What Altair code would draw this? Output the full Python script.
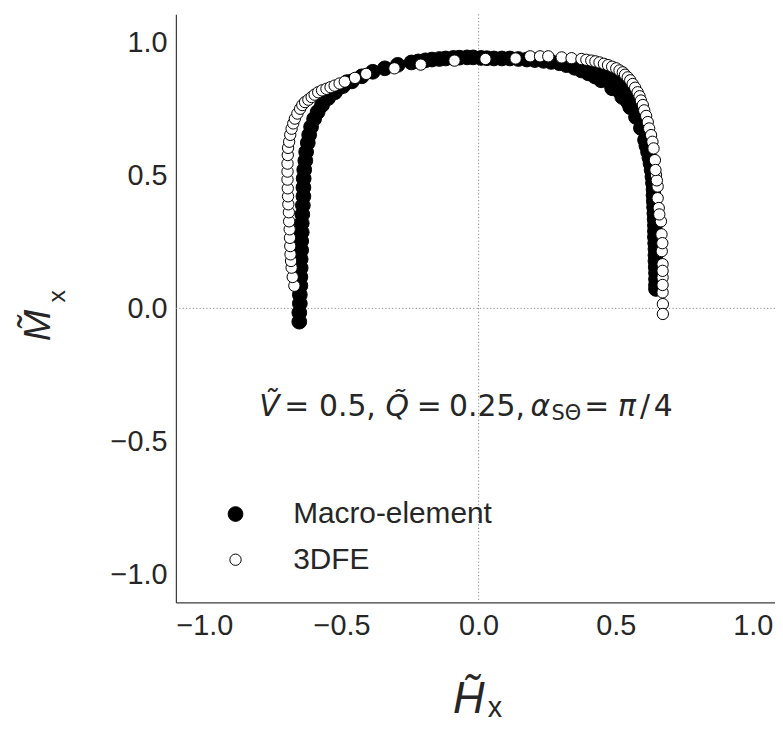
import altair as alt
import pandas as pd

# ---------------- data ----------------
series_names = ["Macro-element", "3DFE"]

macro_x = [
    -0.654, -0.654, -0.652, -0.652, -0.650, -0.650, -0.649, -0.649, -0.647, -0.647,
    -0.645, -0.645, -0.643, -0.641, -0.639, -0.639, -0.638, -0.636, -0.632, -0.629,
    -0.623, -0.618, -0.611, -0.600, -0.587, -0.571, -0.549, -0.524, -0.495, -0.462,
    -0.426, -0.386, -0.342, -0.295, -0.245, -0.194, -0.143, -0.092, -0.042,
    -0.535, -0.510, -0.480,
    -0.220, -0.170, -0.120, -0.070, -0.020, 0.030, 0.085, 0.145, 0.205, 0.265,
    0.320, 0.375, 0.425,
    0.009, 0.056, 0.114, 0.176, 0.237, 0.295, 0.350, 0.400, 0.447, 0.487,
    0.524, 0.553, 0.574, 0.592, 0.607, 0.618, 0.627, 0.634, 0.638, 0.639,
    0.641, 0.643, 0.643, 0.645, 0.645, 0.647, 0.647, 0.647,
    0.393, 0.447, 0.495, 0.531, 0.560, 0.582, 0.600, 0.614,
    0.422, 0.469, 0.509, 0.545,
    0.612, 0.623, 0.631, 0.636, 0.638, 0.640, 0.642, 0.643, 0.644, 0.645,
    0.646, 0.647,
]
macro_y = [
    -0.050, -0.016, 0.018, 0.051, 0.085, 0.118, 0.152, 0.185, 0.219, 0.253,
    0.286, 0.320, 0.353, 0.387, 0.421, 0.454, 0.488, 0.521, 0.555, 0.588,
    0.622, 0.652, 0.682, 0.712, 0.738, 0.764, 0.790, 0.812, 0.835, 0.853,
    0.872, 0.889, 0.902, 0.915, 0.924, 0.932, 0.937, 0.941, 0.943,
    0.810, 0.830, 0.850,
    0.928, 0.935, 0.939, 0.942, 0.943, 0.940, 0.939, 0.937, 0.933, 0.926,
    0.914, 0.894, 0.871,
    0.941, 0.939, 0.939, 0.935, 0.930, 0.921, 0.904, 0.883, 0.857, 0.827,
    0.794, 0.756, 0.719, 0.678, 0.633, 0.588, 0.544, 0.495, 0.447, 0.402,
    0.357, 0.312, 0.268, 0.223, 0.178, 0.133, 0.088, 0.073,
    0.913, 0.898, 0.876, 0.842, 0.801, 0.753, 0.700, 0.644,
    0.879, 0.857, 0.820, 0.775,
    0.611, 0.566, 0.520, 0.471, 0.425, 0.380, 0.335, 0.290, 0.245, 0.200,
    0.155, 0.110,
]

fe_x = [
    -0.672, -0.678, -0.682, -0.684, -0.686, -0.687, -0.688, -0.689, -0.691, -0.692,
    -0.694, -0.695, -0.696, -0.697, -0.697, -0.697, -0.696, -0.695, -0.691, -0.687,
    -0.682, -0.676, -0.670, -0.661, -0.651, -0.643, -0.633, -0.621, -0.609, -0.598,
    -0.585, -0.571, -0.555, -0.540, -0.525, -0.507, -0.488, -0.451, -0.410, -0.307,
    -0.211, -0.088, 0.025, 0.135, 0.188, 0.224, 0.254, 0.303, 0.339, 0.375,
    0.393, 0.411, 0.426, 0.441, 0.457, 0.472, 0.487, 0.502, 0.514, 0.526,
    0.534, 0.544, 0.553, 0.562, 0.571, 0.580, 0.587, 0.592, 0.599, 0.604,
    0.611, 0.617, 0.622, 0.629, 0.634, 0.638, 0.643, 0.647, 0.653, 0.653,
    0.657, 0.665, 0.667, 0.668, 0.671, 0.671, 0.671, 0.672, 0.672,
    0.670, 0.671, 0.671, 0.659, 0.650, 0.645,
]
fe_y = [
    0.085, 0.118, 0.153, 0.178, 0.203, 0.234, 0.265, 0.297, 0.327, 0.361,
    0.391, 0.421, 0.451, 0.484, 0.514, 0.544, 0.576, 0.603, 0.626, 0.652,
    0.675, 0.695, 0.713, 0.732, 0.750, 0.764, 0.775, 0.784, 0.794, 0.803,
    0.812, 0.819, 0.825, 0.831, 0.837, 0.845, 0.852, 0.866, 0.881, 0.902,
    0.916, 0.931, 0.937, 0.939, 0.947, 0.947, 0.947, 0.943, 0.940, 0.937,
    0.934, 0.931, 0.928, 0.924, 0.919, 0.914, 0.908, 0.902, 0.894, 0.887,
    0.878, 0.868, 0.857, 0.843, 0.829, 0.812, 0.797, 0.781, 0.764, 0.744,
    0.723, 0.700, 0.676, 0.651, 0.626, 0.601, 0.557, 0.501, 0.458, 0.414,
    0.377, 0.327, 0.278, 0.215, 0.166, 0.116, 0.060, 0.016, -0.021,
    0.245, 0.141, 0.088, 0.353, 0.481, 0.520,
]

x_ticks = [-1.0, -0.5, 0.0, 0.5, 1.0]
y_ticks = [-1.0, -0.5, 0.0, 0.5, 1.0]
x_domain = [-1.104, 1.081]
y_domain = [-1.105, 1.105]

# ---------------- chart ----------------
points = pd.DataFrame({
    "Hx": macro_x + fe_x,
    "Mx": macro_y + fe_y,
    "series": [series_names[0]] * len(macro_x) + [series_names[1]] * len(fe_x),
})

SANS = "Liberation Sans"
MATH = "DejaVu Sans"
INK = "#262626"

xscale = alt.Scale(domain=x_domain, nice=False, zero=False)
yscale = alt.Scale(domain=y_domain, nice=False, zero=False)


def make_axis(values):
    return alt.Axis(
        values=values, format=".1f", labelFont=SANS, labelFontSize=29,
        labelColor=INK, ticks=False, tickSize=0, grid=False,
        domainColor="#3d3d3d", domainWidth=1.25, labelPadding=9,
        labelFlush=False, title=None,
    )


legend = alt.Legend(
    title=None, orient="none", legendX=45, legendY=488,
    labelFont=SANS, labelFontSize=30, labelColor=INK, labelOffset=43,
    labelLimit=500, rowPadding=16, symbolStrokeWidth=1,
    padding=0, symbolType="circle",
)

scatter = alt.Chart(points).mark_circle(
    strokeWidth=1, opacity=1
).encode(
    x=alt.X("Hx:Q", scale=xscale, axis=make_axis(x_ticks)),
    y=alt.Y("Mx:Q", scale=yscale, axis=make_axis(y_ticks)),
    fill=alt.Fill("series:N",
                  scale=alt.Scale(domain=series_names, range=["#000000", "#ffffff"]),
                  legend=legend),
    stroke=alt.Stroke("series:N",
                      scale=alt.Scale(domain=series_names, range=["#000000", "#000000"]),
                      legend=legend),
    size=alt.Size("series:N",
                  scale=alt.Scale(domain=series_names, range=[220, 130]),
                  legend=legend),
)

zero = pd.DataFrame({"z": [0.0]})
hline = alt.Chart(zero).mark_rule(
    color="#8a8a8a", strokeDash=[1.2, 2.2], strokeWidth=1
).encode(y=alt.Y("z:Q", scale=yscale, axis=make_axis(y_ticks)))
vline = alt.Chart(zero).mark_rule(
    color="#8a8a8a", strokeDash=[1.2, 2.2], strokeWidth=1
).encode(x=alt.X("z:Q", scale=xscale, axis=make_axis(x_ticks)))

one = pd.DataFrame({"k": [0]})


def txt(text, px, py, size, font, style="normal", angle=0):
    return alt.Chart(one).mark_text(
        text=text, font=font, fontSize=size, fontStyle=style,
        align="left", baseline="alphabetic", angle=angle, color=INK,
    ).encode(x=alt.value(px), y=alt.value(py))


AN = 30
BL = 404.7
texts = [
    # annotation  V~ = 0.5, Q~ = 0.25, alpha_SΘ = π/4
    txt("V\u0303", 84, BL, AN, MATH, "italic"),
    txt("=", 109, BL, AN, MATH),
    txt("0.5,", 144, BL, AN, MATH),
    txt("Q\u0303", 211, BL, AN, MATH, "italic"),
    txt("=", 242.5, BL, AN, MATH),
    txt("0.25,", 275, BL, AN, MATH),
    txt("\u03b1", 357, BL, AN, MATH, "italic"),
    txt("S\u0398", 378, BL + 3.5, 21, MATH),
    txt("=", 411, BL, AN, MATH),
    txt("\u03c0", 445, BL, AN, MATH, "italic"),
    txt("/", 467, BL, AN, MATH),
    txt("4", 481, BL, AN, MATH),
    # x-axis title  H~_x
    txt("H\u0303", 279, 703, 44, SANS, "italic"),
    txt("x", 314, 707, 29, SANS),
    # y-axis title  M~_x (rotated)
    txt("M\u0303", -127, 329, 38, SANS, "italic", 270),
    txt("x", -112, 290, 25, SANS, "normal", 270),
]

chart = alt.layer(hline, vline, scatter, *texts).properties(
    width=603,
    height=592,
    padding={"left": 169, "top": 4, "right": 0, "bottom": 118},
    autosize=alt.AutoSizeParams(type="none"),
    background="white",
).configure_view(stroke=None)

chart.save("out.html", embed_options={"renderer": "svg", "actions": False})
